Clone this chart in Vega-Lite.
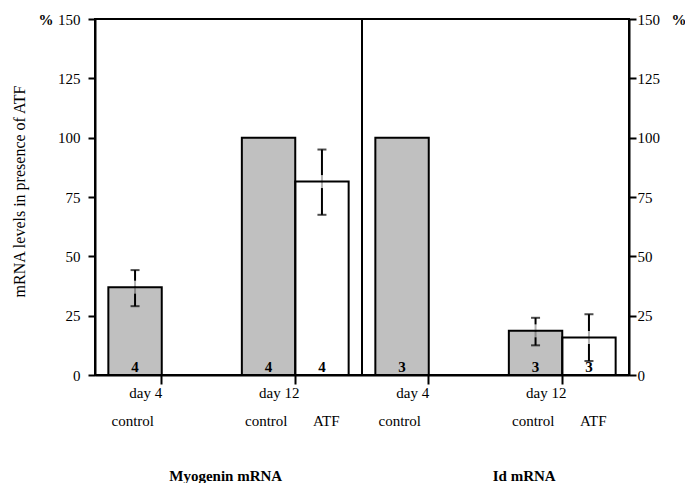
{
  "$schema": "https://vega.github.io/schema/vega-lite/v6.json",
  "width": 534,
  "height": 356,
  "autosize": {"type": "none"},
  "padding": {"left": 95, "top": 19, "right": 56, "bottom": 108},
  "background": "white",
  "config": {
    "view": {"stroke": "black", "strokeWidth": 2},
    "font": "Liberation Serif",
    "text": {"font": "Liberation Serif"},
    "axis": {
      "labelFont": "Liberation Serif",
      "labelFontSize": 15,
      "labelColor": "black",
      "titleFont": "Liberation Serif",
      "titleColor": "black",
      "domainColor": "black",
      "tickColor": "black",
      "grid": false,
      "labelAngle": 0
    }
  },
  "data": {
    "values": [
      {"grp": "M4", "cond": "control", "v": 37, "lo": 29, "hi": 44.2, "n": "4"},
      {"grp": "M12", "cond": "control", "v": 100, "lo": null, "hi": null, "n": "4"},
      {"grp": "M12", "cond": "ATF", "v": 81.5, "lo": 67.5, "hi": 95, "n": "4"},
      {"grp": "I4", "cond": "control", "v": 100, "lo": null, "hi": null, "n": "3"},
      {"grp": "I12", "cond": "control", "v": 18.6, "lo": 12.5, "hi": 24.1, "n": "3"},
      {"grp": "I12", "cond": "ATF", "v": 15.8, "lo": 5.9, "hi": 25.6, "n": "3"}
    ]
  },
  "resolve": {"axis": {"x": "independent", "y": "independent"}},
  "layer": [
    {
      "mark": {"type": "bar"},
      "encoding": {
        "x": {
          "field": "grp", "type": "nominal",
          "scale": {"domain": ["M4", "M12", "I4", "I12"], "paddingInner": 0.2, "paddingOuter": 0.1},
          "axis": {
            "orient": "bottom", "title": null,
            "values": ["M4", "M12", "I4", "I12"],
            "labelExpr": "(datum.value == 'M4' || datum.value == 'I4') ? 'day 4' : 'day 12'",
            "labelFont": "Liberation Serif", "labelFontSize": 15,
            "ticks": true, "tickSize": 9, "tickWidth": 2,
            "domain": true, "domainWidth": 2,
            "labelPadding": 1, "labelOffset": -16
          }
        },
        "xOffset": {"field": "cond", "type": "nominal", "scale": {"domain": ["control", "ATF"], "paddingInner": 0, "paddingOuter": 0}},
        "y": {
          "field": "v", "type": "quantitative", "stack": null,
          "scale": {"domain": [0, 150], "nice": false, "zero": true},
          "axis": {
            "orient": "left",
            "values": [0, 25, 50, 75, 100, 125, 150],
            "labelFont": "Liberation Serif", "labelFontSize": 15,
            "tickSize": 7, "tickWidth": 2, "domainWidth": 2, "labelPadding": 8,
            "title": "mRNA levels in presence of ATF",
            "titleFont": "Liberation Serif",
            "titleFontSize": 16, "titleFontWeight": "normal",
            "titleAngle": 270, "titleBaseline": "bottom", "titleAlign": "center",
            "titleX": -68, "titleY": 172
          }
        },
        "color": {"field": "cond", "type": "nominal", "scale": {"domain": ["control", "ATF"], "range": ["#c0c0c0", "#ffffff"]}, "legend": null}
      }
    },
    {
      "transform": [{"filter": "datum.lo != null"}],
      "mark": {"type": "rule", "color": "black", "strokeWidth": 2},
      "encoding": {
        "x": {
          "field": "grp", "type": "nominal",
          "axis": {
            "orient": "bottom", "title": null,
            "values": ["M4", "M12", "I4", "I12"],
            "labelExpr": "'control'",
            "labelFont": "Liberation Serif", "labelFontSize": 15,
            "ticks": false, "tickSize": 0, "domain": false,
            "labelPadding": 38, "labelOffset": -29
          }
        },
        "xOffset": {"field": "cond", "type": "nominal"},
        "y": {
          "field": "lo", "type": "quantitative",
          "axis": {
            "orient": "right", "title": null,
            "values": [0, 25, 50, 75, 100, 125, 150],
            "labelFont": "Liberation Serif", "labelFontSize": 15,
            "tickSize": 7, "tickWidth": 2, "domainWidth": 2, "labelPadding": 1
          }
        },
        "y2": {"field": "hi"}
      }
    },
    {
      "transform": [{"filter": "datum.lo != null"}],
      "mark": {"type": "tick", "orient": "vertical", "color": "white", "size": 6, "thickness": 4, "yOffset": -3.5},
      "encoding": {
        "x": {
          "field": "grp", "type": "nominal",
          "axis": {
            "orient": "bottom", "title": null,
            "values": ["M12", "I12"],
            "labelExpr": "'ATF'",
            "labelFont": "Liberation Serif", "labelFontSize": 15,
            "ticks": false, "tickSize": 0, "domain": false,
            "labelPadding": 38, "labelOffset": 31
          }
        },
        "xOffset": {"field": "cond", "type": "nominal"},
        "y": {
          "field": "v", "type": "quantitative",
          "axis": {
            "orient": "left", "title": null,
            "values": [150], "labelExpr": "'%'", "labelFontWeight": "bold",
            "labelFont": "Liberation Serif", "labelFontSize": 15,
            "ticks": false, "tickSize": 0, "domain": false, "labelPadding": 42
          }
        }
      }
    },
    {
      "transform": [{"filter": "datum.lo != null"}],
      "mark": {"type": "tick", "orient": "vertical", "size": 6, "thickness": 4, "yOffset": 3.5},
      "encoding": {
        "x": {
          "field": "grp", "type": "nominal",
          "axis": {
            "orient": "bottom", "title": null,
            "values": ["M4"],
            "labelExpr": "'Myogenin mRNA'", "labelFontWeight": "bold",
            "labelFont": "Liberation Serif", "labelFontSize": 15,
            "ticks": false, "tickSize": 0, "domain": false,
            "labelPadding": 93, "labelOffset": 64
          }
        },
        "xOffset": {"field": "cond", "type": "nominal"},
        "y": {
          "field": "v", "type": "quantitative",
          "axis": {
            "orient": "right", "title": null,
            "values": [150], "labelExpr": "'%'", "labelFontWeight": "bold",
            "labelFont": "Liberation Serif", "labelFontSize": 15,
            "ticks": false, "tickSize": 0, "domain": false, "labelPadding": 42
          }
        },
        "color": {"field": "cond", "type": "nominal", "legend": null}
      }
    },
    {
      "mark": {"type": "bar", "filled": false, "color": "black", "strokeWidth": 2},
      "encoding": {
        "x": {
          "field": "grp", "type": "nominal",
          "axis": {
            "orient": "bottom", "title": null,
            "values": ["I12"],
            "labelExpr": "'Id mRNA'", "labelFontWeight": "bold",
            "labelFont": "Liberation Serif", "labelFontSize": 15,
            "ticks": false, "tickSize": 0, "domain": false,
            "labelPadding": 93, "labelOffset": -38
          }
        },
        "xOffset": {"field": "cond", "type": "nominal"},
        "y": {"field": "v", "type": "quantitative", "stack": null, "axis": null}
      }
    },
    {
      "transform": [{"filter": "datum.lo != null"}],
      "mark": {"type": "tick", "orient": "horizontal", "color": "black", "size": 9, "thickness": 2},
      "encoding": {
        "x": {"field": "grp", "type": "nominal", "axis": null},
        "xOffset": {"field": "cond", "type": "nominal"},
        "y": {"field": "lo", "type": "quantitative", "axis": null}
      }
    },
    {
      "transform": [{"filter": "datum.lo != null"}],
      "mark": {"type": "tick", "orient": "horizontal", "color": "black", "size": 9, "thickness": 2},
      "encoding": {
        "x": {"field": "grp", "type": "nominal", "axis": null},
        "xOffset": {"field": "cond", "type": "nominal"},
        "y": {"field": "hi", "type": "quantitative", "axis": null}
      }
    },
    {
      "mark": {"type": "text", "font": "Liberation Serif", "fontSize": 15, "fontWeight": "bold", "color": "black", "baseline": "alphabetic", "dy": -3},
      "encoding": {
        "x": {"field": "grp", "type": "nominal", "axis": null},
        "xOffset": {"field": "cond", "type": "nominal"},
        "y": {"datum": 0, "type": "quantitative", "axis": null},
        "text": {"field": "n"}
      }
    },
    {
      "data": {"values": [{}]},
      "mark": {"type": "rule", "color": "black", "strokeWidth": 2},
      "encoding": {
        "x": {"datum": "M12", "type": "nominal", "bandPosition": 1.125, "axis": null},
        "y": {"datum": 0, "type": "quantitative", "axis": null},
        "y2": {"datum": 150}
      }
    }
  ]
}
